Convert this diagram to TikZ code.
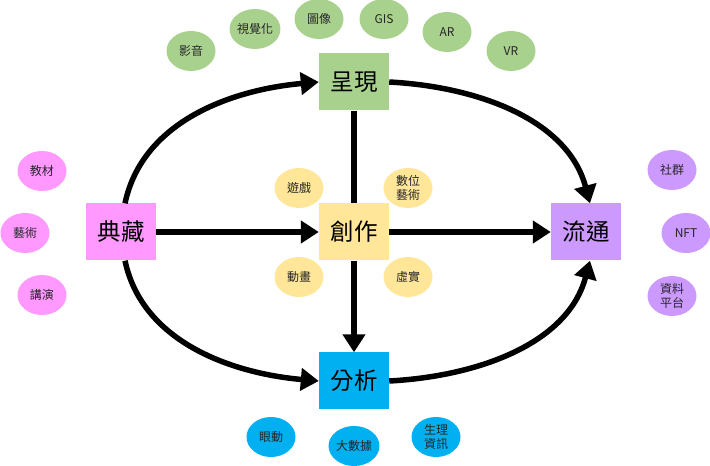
\documentclass[tikz,border=0pt]{standalone}
\usepackage{fontspec}
\setmainfont{Noto Sans CJK TC}
\usetikzlibrary{arrows.meta,shapes.geometric}
\definecolor{cgreen}{HTML}{A9D18E}
\definecolor{cpink}{HTML}{FF99FF}
\definecolor{cyellow}{HTML}{FFE699}
\definecolor{cpurple}{HTML}{CC99FF}
\definecolor{cblue}{HTML}{00B0F0}
\tikzset{
  mainbox/.style={rectangle, minimum width=70pt, minimum height=57pt, inner sep=0pt,
    font=\fontsize{23.5}{27}\selectfont},
  sat/.style={ellipse, minimum width=49pt, minimum height=40pt, inner sep=0pt,
    align=center, font=\fontsize{12}{14}\selectfont, text=black!85},
  arr/.style={line width=5.5pt, -{Triangle[length=18pt,width=22pt]}},
  plain/.style={line width=5.5pt},
}
\begin{document}
\begin{tikzpicture}[x=1pt,y=1pt]
\useasboundingbox (0,0) rectangle (710,466);
% main boxes
\node[mainbox, fill=cgreen] (cx) at (354,384) {呈現};
\node[mainbox, fill=cpink] (dc) at (121,234) {典藏};
\node[mainbox, fill=cyellow] (cz) at (354,234) {創作};
\node[mainbox, fill=cpurple] (lt) at (586,234) {流通};
\node[mainbox, fill=cblue] (fx) at (354,85) {分析};
% green satellites
\node[sat, fill=cgreen] (g1) at (191,415) {影音};
\node[sat, fill=cgreen] (g2) at (255,437) {視覺化};
\node[sat, fill=cgreen] (g3) at (319,447) {圖像};
\node[sat, fill=cgreen] (g4) at (384,447) {GIS};
\node[sat, fill=cgreen] (g5) at (447,434) {AR};
\node[sat, fill=cgreen] (g6) at (511,415) {VR};
% pink satellites
\node[sat, fill=cpink] (p1) at (42,295) {教材};
\node[sat, fill=cpink] (p2) at (25,233) {藝術};
\node[sat, fill=cpink] (p3) at (42,171) {講演};
% yellow satellites
\node[sat, fill=cyellow] (y1) at (299,278) {遊戲};
\node[sat, fill=cyellow] (y2) at (408,278) {數位\\藝術};
\node[sat, fill=cyellow] (y3) at (299,189) {動畫};
\node[sat, fill=cyellow] (y4) at (408,189) {虛實};
% purple satellites
\node[sat, fill=cpurple] (u1) at (672,296) {社群};
\node[sat, fill=cpurple] (u2) at (686,233) {NFT};
\node[sat, fill=cpurple] (u3) at (672,170) {資料\\平台};
% blue satellites
\node[sat, fill=cblue] (b1) at (271,29) {眼動};
\node[sat, fill=cblue] (b2) at (354,20) {大數據};
\node[sat, fill=cblue] (b3) at (436,29) {生理\\資訊};
% connectors
\draw[arr] (dc) -- (cz);
\draw[arr] (cz) -- (lt);
\draw[plain] (cx) -- (cz);
\draw[arr] (cz) -- (fx);
\draw[arr] ([xshift=4pt]dc.north) to[out=78, in=185, looseness=0.95] (cx.west);
\draw[arr] (cx.east) to[out=-3, in=105, looseness=0.95] ([xshift=4pt]lt.north);
\draw[arr] ([xshift=4pt]dc.south) to[out=-78, in=175, looseness=0.95] (fx.west);
\draw[arr] (fx.east) to[out=3, in=-105, looseness=0.95] ([xshift=4pt]lt.south);
\end{tikzpicture}
\end{document}
